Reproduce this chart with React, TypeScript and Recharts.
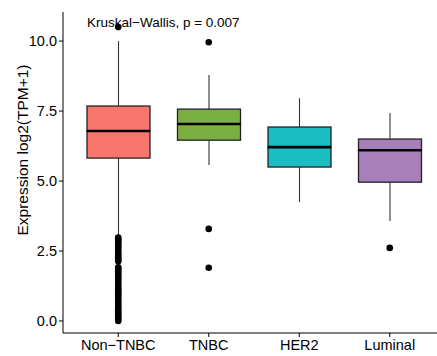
import { ComposedChart, Bar, Scatter, XAxis, YAxis } from "recharts";

const categories = ["Non\u2212TNBC", "TNBC", "HER2", "Luminal"];
const boxColors = ["#F8766D", "#7CAF41", "#1CBDC2", "#A780BA"];

const whiskerLow = [3.0, 5.57, 4.25, 3.57];
const q1 = [5.82, 6.46, 5.5, 4.96];
const median = [6.79, 7.04, 6.21, 6.1];
const q3 = [7.68, 7.57, 6.93, 6.5];
const whiskerHigh = [10.0, 8.79, 7.96, 7.43];

const nonTnbcOutliers = [
  10.5, 2.98, 2.92, 2.86, 2.8, 2.72, 2.65, 2.58, 2.5, 2.42, 2.35, 2.28, 2.2,
  2.13, 1.92, 1.86, 1.78, 1.7, 1.62, 1.55, 1.47, 1.4, 1.32, 1.25, 1.17, 1.1,
  1.02, 0.95, 0.87, 0.8, 0.72, 0.65, 0.57, 0.5, 0.42, 0.35, 0.27, 0.2, 0.12,
  0.05, 0.0,
];
const tnbcOutliers = [9.96, 3.29, 1.9];
const her2Outliers: number[] = [];
const luminalOutliers = [2.61];

const yTicks = [0, 2.5, 5, 7.5, 10];

const boxData = categories.map((name, i) => ({
  name,
  base: whiskerLow[i],
  lowerWhisker: q1[i] - whiskerLow[i],
  lowerBox: median[i] - q1[i],
  upperBox: q3[i] - median[i],
  upperWhisker: whiskerHigh[i] - q3[i],
  boxColor: boxColors[i],
}));

const outlierData = [
  nonTnbcOutliers,
  tnbcOutliers,
  her2Outliers,
  luminalOutliers,
].flatMap((vals, i) => vals.map((value) => ({ name: categories[i], value })));

const Empty = () => <g />;

const Whisker = (props: any) => {
  const { x, y, width, height } = props;
  const cx = x + width / 2;
  return (
    <line x1={cx} y1={y} x2={cx} y2={y + height} stroke="#333" strokeWidth={1.1} />
  );
};

const LowerBox = (props: any) => {
  const { x, y, width, height, payload } = props;
  return (
    <rect x={x} y={y} width={width} height={height} fill={payload.boxColor} stroke="#222" strokeWidth={1.3} />
  );
};

const UpperBox = (props: any) => {
  const { x, y, width, height, payload } = props;
  return (
    <g>
      <rect x={x} y={y} width={width} height={height} fill={payload.boxColor} stroke="#222" strokeWidth={1.3} />
      <line x1={x} y1={y + height} x2={x + width} y2={y + height} stroke="#000" strokeWidth={2.6} />
    </g>
  );
};

const Dot = (props: any) => <circle cx={props.cx} cy={props.cy} r={3.3} fill="#000" />;

const YTitle = (props: any) => {
  const { viewBox } = props;
  const x = viewBox.x + 22;
  const y = 150;
  return (
    <text
      x={x}
      y={y}
      transform={`rotate(-90, ${x}, ${y})`}
      textAnchor="middle"
      dominantBaseline="central"
      fontSize={15.5}
      fill="#000"
    >
      Expression log2(TPM+1)
    </text>
  );
};

export default function App() {
  return (
    <div
      style={{
        position: "absolute",
        left: 0,
        top: 0,
        width: 437,
        height: 356,
        background: "#fff",
        fontFamily: "'Liberation Sans', Arial, sans-serif",
      }}
    >
      <div
        style={{
          position: "absolute",
          left: 87,
          top: 15.6,
          fontSize: 13.5,
          lineHeight: 1,
          whiteSpace: "nowrap",
          color: "#000",
        }}
      >
        Kruskal{"\u2212"}Wallis, p = 0.007
      </div>
      <ComposedChart
        width={437}
        height={356}
        data={boxData}
        margin={{ top: 12, right: 0, bottom: 0, left: 0 }}
      >
        <XAxis
          dataKey="name"
          allowDuplicatedCategory={false}
          padding={{ left: 10, right: 2 }}
          height={23}
          tickSize={4}
          tickMargin={3}
          stroke="#000"
          tick={{ fill: "#000", fontSize: 14.5 }}
          tickLine={{ stroke: "#000" }}
        />
        <YAxis
          type="number"
          domain={[-0.43, 11.04]}
          allowDataOverflow
          ticks={yTicks}
          tickFormatter={(v: number) => v.toFixed(1)}
          width={63}
          tickSize={4}
          tickMargin={2}
          stroke="#000"
          tick={{ fill: "#000", fontSize: 14.5 }}
          tickLine={{ stroke: "#000" }}
          label={<YTitle />}
        />
        <Bar dataKey="base" stackId="box" shape={<Empty />} barSize={63} isAnimationActive={false} />
        <Bar dataKey="lowerWhisker" stackId="box" shape={<Whisker />} barSize={63} isAnimationActive={false} />
        <Bar dataKey="lowerBox" stackId="box" shape={<LowerBox />} barSize={63} isAnimationActive={false} />
        <Bar dataKey="upperBox" stackId="box" shape={<UpperBox />} barSize={63} isAnimationActive={false} />
        <Bar dataKey="upperWhisker" stackId="box" shape={<Whisker />} barSize={63} isAnimationActive={false} />
        <Scatter data={outlierData} dataKey="value" shape={<Dot />} isAnimationActive={false} />
      </ComposedChart>
    </div>
  );
}
